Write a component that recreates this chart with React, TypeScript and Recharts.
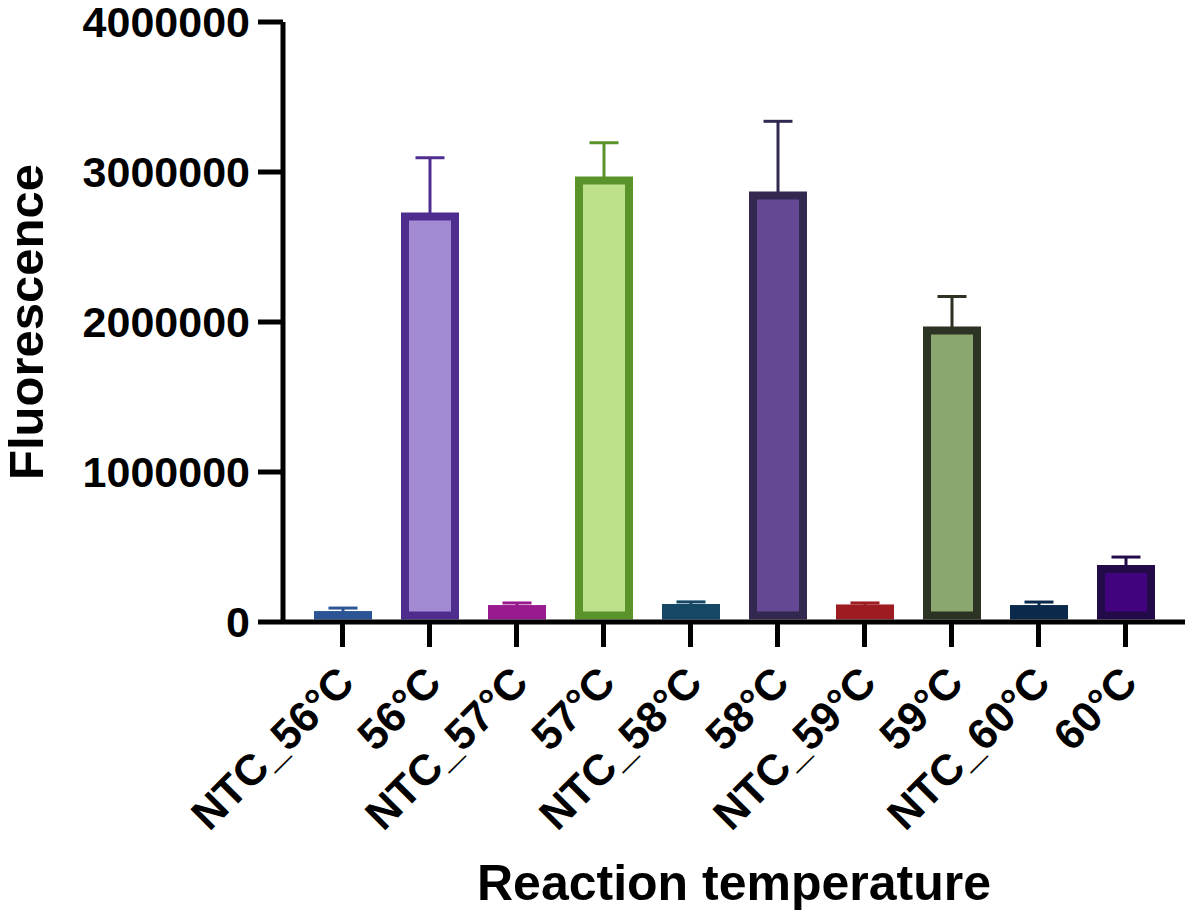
import { BarChart, Bar, XAxis, YAxis } from 'recharts';

// --- data ---
const categories = ['NTC_56°C', '56°C', 'NTC_57°C', '57°C', 'NTC_58°C', '58°C', 'NTC_59°C', '59°C', 'NTC_60°C', '60°C'];
const means = [73000, 2730000, 113000, 2970000, 120000, 2870000, 117000, 1970000, 113000, 380000];
const sds = [20000, 365000, 14000, 225000, 14000, 468000, 10000, 200000, 20000, 53000];
const yTicks = [0, 1000000, 2000000, 3000000, 4000000];

const FILLS = ['#3360a0', '#a38bd4', '#ef9be6', '#bde08a', '#2f8fb6', '#654893', '#e98181', '#8ba66e', '#1f5396', '#42037e'];
const STROKES = ['#2b5594', '#4f2d8f', '#971a8f', '#5a9329', '#144864', '#33284f', '#9d1c21', '#2c3325', '#0b2a4b', '#230b4a'];

const FONT = '"Liberation Sans", Arial, Helvetica, sans-serif';

const data = categories.map((name, i) => ({ name, mean: means[i], sd: sds[i] }));

const BarWithError = (props: any) => {
    const { x, y, width, height, index, payload } = props;
    const sw = 8;
    const errPx = height > 0 ? (payload.sd * height) / payload.mean : 0;
    const cx = x + width / 2;
    const bottom = y + height - 2.5;
    const color = STROKES[index];
    return (
        <g>
            <line x1={cx} x2={cx} y1={y + 2} y2={y - errPx} stroke={color} strokeWidth={3} />
            <line x1={cx - 14.5} x2={cx + 14.5} y1={y - errPx} y2={y - errPx} stroke={color} strokeWidth={3} />
            <rect
                x={x + sw / 2}
                y={y + sw / 2}
                width={width - sw}
                height={Math.max(bottom - y - sw, 0)}
                fill={FILLS[index]}
                stroke={color}
                strokeWidth={sw}
            />
        </g>
    );
};

const XTick = (props: any) => {
    const { x, y, payload } = props;
    const px = x + 14;
    const py = y + 36;
    return (
        <text
            x={px}
            y={py}
            transform={`rotate(-45, ${px}, ${py})`}
            textAnchor="end"
            fontSize={43}
            fontWeight="bold"
            fontFamily={FONT}
            fill="#000"
        >
            {payload.value}
        </text>
    );
};

const YTitle = (props: any) => {
    const { viewBox } = props;
    const cy = viewBox.y + viewBox.height / 2;
    return (
        <text x={43} y={cy} transform={`rotate(-90, 43, ${cy})`} textAnchor="middle" fontSize={49} fontWeight="bold" fontFamily={FONT} fill="#000">
            Fluorescence
        </text>
    );
};

const XTitle = (props: any) => {
    const { viewBox } = props;
    const cx = viewBox.x + viewBox.width / 2;
    return (
        <text x={cx} y={viewBox.y + 278} textAnchor="middle" fontSize={50} fontWeight="bold" fontFamily={FONT} fill="#000">
            Reaction temperature
        </text>
    );
};

export default function App() {
    return (
        <div style={{ position: 'absolute', left: 0, top: 0, width: 1193, height: 915, background: '#fff' }}>
            <BarChart width={1193} height={915} data={data} margin={{ top: 22, right: 8, bottom: 0, left: 0 }}>
                <XAxis
                    dataKey="name"
                    height={293}
                    interval={0}
                    padding={{ left: 16, right: 16 }}
                    axisLine={{ stroke: '#000', strokeWidth: 5 }}
                    tickLine={{ stroke: '#000', strokeWidth: 5 }}
                    tickSize={25}
                    tickMargin={2}
                    tick={<XTick />}
                    label={{ content: <XTitle /> }}
                />
                <YAxis
                    width={283}
                    domain={[0, 4000000]}
                    ticks={yTicks}
                    interval={0}
                    tickFormatter={(v: number) => String(v)}
                    axisLine={{ stroke: '#000', strokeWidth: 5 }}
                    tickLine={{ stroke: '#000', strokeWidth: 5 }}
                    tickSize={25}
                    tickMargin={8}
                    tick={{ fontSize: 43, fontWeight: 'bold', fontFamily: FONT, fill: '#000' }}
                    label={{ content: <YTitle /> }}
                />
                <Bar dataKey="mean" barSize={58} isAnimationActive={false} shape={<BarWithError />} />
            </BarChart>
        </div>
    );
}
